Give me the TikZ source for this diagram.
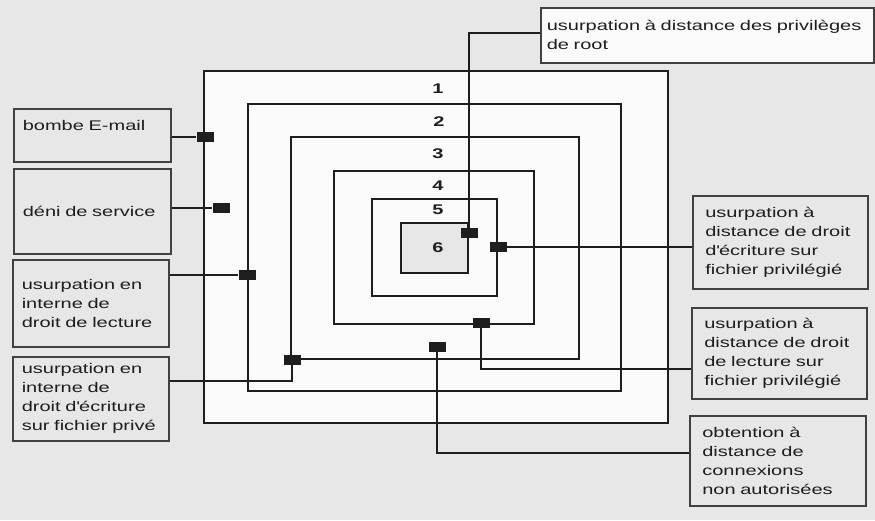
\documentclass[tikz,border=0pt]{standalone}
\usepackage{fontspec}
\setmainfont[FakeStretch=1.43]{Liberation Sans}
\usepackage{tikz}
\usetikzlibrary{positioning}
\definecolor{pagegray}{HTML}{E7E7E7}
\definecolor{paper}{HTML}{FAFAFA}
\definecolor{ink}{HTML}{1E1E1E}
\definecolor{stipple}{HTML}{E6E6E6}

\begin{document}
\begin{tikzpicture}[
    x=1pt,y=-1pt,
    font=\fontsize{14pt}{19pt}\selectfont,
    ring/.style={draw=ink,line width=2.2pt},
    wire/.style={draw=ink,line width=1.6pt},
    tab/.style={fill=ink,minimum width=17pt,minimum height=10pt,inner sep=0pt},
    zone/.style={font=\fontsize{14pt}{19pt}\selectfont\bfseries,text=ink,inner sep=0pt},
    infobox/.style={draw=ink!85,line width=1.5pt,fill=pagegray,align=left,anchor=north west,inner ysep=0pt,text=ink}
  ]
    \useasboundingbox (0,0) rectangle (875,520);
    \fill[pagegray] (0,0) rectangle (875,520);

    \fill[paper] (204,71) rectangle (668,423);
    \draw[ring] (204,71) rectangle (668,423);
    \draw[ring] (248,104) rectangle (621,391);
    \draw[ring] (291,137) rectangle (579,359);
    \draw[ring] (334,171) rectangle (534,324);
    \draw[ring] (372,199) rectangle (497,296);
    \draw[ring,fill=stipple] (401,223) rectangle (468,273);

    \node[zone] (n1) at (438,89) {1};
    \node[zone] (n2) at (439,122) {2};
    \node[zone] (n3) at (438,154) {3};
    \node[zone] (n4) at (438,186) {4};
    \node[zone] (n5) at (438,210) {5};
    \node[zone] (n6) at (438,248) {6};

    \node[infobox,inner xsep=9pt,text width=139pt,minimum height=53pt,text depth=19pt] (mail) at (13,108) {bombe E-mail};
    \node[infobox,inner xsep=9pt,text width=139pt,minimum height=85pt] (dos) at (13,168) {déni de service};
    \node[infobox,inner xsep=9pt,text width=138pt,minimum height=87pt] (readin) at (12,259) {usurpation en\\interne de\\droit de lecture};
    \node[infobox,inner xsep=9pt,text width=138pt,minimum height=84pt] (writein) at (12,356) {usurpation en\\interne de\\droit d\textquotesingle écriture\\sur fichier privé};
    \node[infobox,fill=paper,inner xsep=6pt,text width=321pt,minimum height=55pt] (root) at (540,7) {\mbox{usurpation à distance des privilèges}\\de root};
    \node[infobox,inner xsep=12.5pt,text width=150pt,minimum height=93pt] (writeout) at (692,195) {usurpation à\\distance de droit\\d\textquotesingle écriture sur\\fichier privilégié};
    \node[infobox,inner xsep=12.5pt,text width=150pt,minimum height=91pt] (readout) at (691,307) {usurpation à\\distance de droit\\de lecture sur\\fichier privilégié};
    \node[infobox,inner xsep=12.5pt,text width=151pt,minimum height=90pt] (conn) at (689,415) {obtention à\\distance de\\connexions\\non autorisées};

    \node[tab] (tmail) at (205,137) {};
    \node[tab] (tdos) at (221,208) {};
    \node[tab] (treadin) at (247,275) {};
    \node[tab] (twritein) at (292,360) {};
    \node[tab] (troot) at (469,233) {};
    \node[tab] (twriteout) at (498,247) {};
    \node[tab] (treadout) at (481,323) {};
    \node[tab] (tconn) at (437,347) {};

    \draw[wire] (mail.east |- tmail) -- (tmail);
    \draw[wire] (dos.east |- tdos) -- (tdos);
    \draw[wire] (readin.east |- treadin) -- (treadin);
    \draw[wire] ([yshift=18pt]writein.east) -| (twritein);
    \draw[wire] ([yshift=2.5pt]root.west) -| (troot);
    \draw[wire] (writeout.west |- twriteout) -- (twriteout);
    \draw[wire] ([yshift=-15.5pt]readout.west) -| (treadout);
    \draw[wire] ([yshift=8pt]conn.west) -| (tconn);
  \end{tikzpicture}
\end{document}
